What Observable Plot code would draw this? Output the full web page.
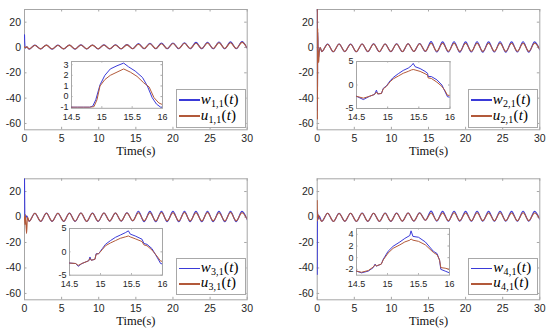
<!DOCTYPE html>
<html><head><meta charset="utf-8">
<script src="https://cdn.jsdelivr.net/npm/d3@7"></script>
<script src="https://cdn.jsdelivr.net/npm/@observablehq/plot@0.6"></script>
<style>
html,body{margin:0;padding:0;background:#fff;}
#root{position:relative;width:550px;height:335px;overflow:hidden;background:#fff;}
#root svg{position:absolute;overflow:visible;}
.leg{position:absolute;background:#fff;border:1px solid #a8a8a8;box-sizing:border-box;}
.leg .ln{position:absolute;left:2px;width:21px;height:1.6px;}
.leg .lt{position:absolute;left:24px;font-family:"Liberation Serif","Times New Roman",serif;font-size:15px;line-height:15px;color:#000;white-space:nowrap;letter-spacing:0.2px;}
.leg .lt sub{font-size:10px;line-height:0;vertical-align:-3px;font-style:normal;}
</style></head>
<body><div id="root"></div>
<script>
// ---------- data ----------
const xTicks = [0, 5, 10, 15, 20, 25, 30];
const yTicks = [-60, -40, -20, 0, 20];
const yDomain = [-65, 30];
const insetXTicks = [14.5, 15, 15.5, 16];
const insetYTicks = [[-1, 0, 1, 2, 3], [-5, 0, 5], [-5, 0, 5], [-2, 0, 2, 4]];
const insetYDomains = [[-1.1, 3.3], [-5, 5], [-5, 5], [-3, 5]];
const seriesW = ["w", "w", "w", "w"];
const seriesU = ["u", "u", "u", "u"];
const subscripts = ["1,1", "2,1", "3,1", "4,1"];

// times of troughs / peaks of the oscillation (shared), last = end of run
const waveT = [0.62, 1.4, 2.18, 2.95, 3.72, 4.5, 5.28, 6.05, 6.82, 7.6, 8.38, 9.15, 9.92, 10.7,
  11.48, 12.25, 13.02, 13.8, 14.58, 15.35, 16.12, 16.9, 17.68, 18.45, 19.22, 20.0, 20.78, 21.55,
  22.32, 23.1, 23.88, 24.65, 25.42, 26.2, 26.98, 27.75, 28.52, 29.3, 30.0];

// panel 1
const w1StartT = [0, 0.03, 0.1, 0.3];
const w1StartV = [10, 4, -0.5, 0.5];
const u1StartT = [0, 0.1, 0.3];
const u1StartV = [0.5, 0, 0.5];
const w1Wave = [-1.3, 1.9, -1.2, 2.0, -1.3, 1.9, -1.2, 2.0, -1.3, 2.1, -1.2, 2.0, -1.2, 2.1, -1.1, 2.2, -1.1, 2.3,
  -1.0, 3.1, -1.0, 3.4, -1.0, 3.5, -1.0, 3.6, -1.0, 3.8, -1.0, 4.0, -1.0, 4.1, -1.0, 4.3, -1.0, 4.4, -1.0, 4.6, -0.6];
const u1Wave = [-1.2, 1.8, -1.1, 1.9, -1.2, 1.8, -1.1, 1.9, -1.2, 2.0, -1.1, 1.9, -1.1, 2.0, -1.0, 2.0, -1.0, 2.1,
  -1.0, 2.6, -0.8, 2.9, -0.8, 3.0, -0.8, 3.1, -0.8, 3.3, -0.8, 3.4, -0.8, 3.6, -0.8, 3.7, -0.8, 3.8, -0.8, 4.0, -0.4];

// panel 2
const w2StartT = [0, 0.03, 0.07, 0.12, 0.2, 0.26, 0.4];
const w2StartV = [30, -50, 12, -3, -8, -4, 0];
const u2StartT = [0, 0.03, 0.07, 0.12, 0.2, 0.26, 0.4];
const u2StartV = [30, -57, 15, -2, -12, -5, 0];
const w2Wave = [-3.3, 2.7, -3.4, 2.8, -3.3, 2.7, -3.4, 2.8, -3.3, 2.9, -3.4, 2.8, -3.3, 2.9, -3.3, 3.0, -3.2, 3.1,
  -3.1, 4.6, -3.6, 4.4, -3.6, 4.5, -3.7, 4.4, -3.6, 4.5, -3.7, 4.4, -3.6, 4.5, -3.7, 4.4, -3.6, 4.5, -3.7, 4.4, -2.0];
const u2Wave = [-3.2, 2.6, -3.3, 2.7, -3.2, 2.6, -3.3, 2.7, -3.2, 2.8, -3.3, 2.7, -3.2, 2.8, -3.2, 2.9, -3.1, 3.0,
  -2.9, 3.3, -3.0, 3.3, -3.0, 3.4, -3.1, 3.3, -3.0, 3.4, -3.1, 3.3, -3.0, 3.4, -3.1, 3.3, -3.0, 3.4, -3.1, 3.3, -1.6];

// panel 3
const w3StartT = [0, 0.04, 0.1, 0.3];
const w3StartV = [30, 2, -2, 1];
const u3StartT = [0, 0.06, 0.12, 0.28, 0.4];
const u3StartV = [0, -6, 2, -13, 0];
const w3Wave = [-3.4, 3.0, -3.5, 3.1, -3.4, 3.0, -3.5, 3.1, -3.4, 3.2, -3.5, 3.1, -3.4, 3.2, -3.3, 3.2, -3.2, 3.3,
  -3.1, 4.5, -3.6, 4.4, -3.7, 4.5, -3.6, 4.4, -3.7, 4.5, -3.6, 4.4, -3.7, 4.5, -3.6, 4.4, -3.7, 4.5, -3.6, 4.4, -2.2];
const u3Wave = [-3.3, 2.9, -3.4, 3.0, -3.3, 2.9, -3.4, 3.0, -3.3, 3.1, -3.4, 3.0, -3.3, 3.1, -3.2, 3.1, -3.1, 3.2,
  -2.9, 3.4, -3.0, 3.4, -3.1, 3.5, -3.0, 3.4, -3.1, 3.5, -3.0, 3.4, -3.1, 3.5, -3.0, 3.4, -3.1, 3.5, -3.0, 3.4, -1.8];

// panel 4
const w4StartT = [0, 0.04, 0.1, 0.25];
const w4StartV = [-45, 5, -2, 1];
const u4StartT = [0, 0.04, 0.1, 0.25];
const u4StartV = [13, -3, 2, 0];
const w4Wave = [-3.4, 3.0, -3.5, 2.9, -3.4, 3.0, -3.5, 3.1, -3.4, 3.0, -3.5, 3.1, -3.4, 3.1, -3.3, 3.2, -3.2, 3.3,
  -2.6, 4.6, -3.2, 4.4, -3.3, 4.5, -3.2, 4.4, -3.3, 4.5, -3.2, 4.4, -3.3, 4.5, -3.2, 4.4, -3.3, 4.5, -3.2, 4.4, -2.0];
const u4Wave = [-3.3, 2.9, -3.4, 2.8, -3.3, 2.9, -3.4, 3.0, -3.3, 2.9, -3.4, 3.0, -3.3, 3.0, -3.2, 3.1, -3.1, 3.2,
  -2.5, 3.2, -2.8, 3.2, -2.9, 3.3, -2.8, 3.2, -2.9, 3.3, -2.8, 3.2, -2.9, 3.3, -2.8, 3.2, -2.9, 3.3, -2.8, 3.2, -1.6];

// insets (zoom 14.5 .. 16 s)
const in1WT = [14.5, 14.6, 14.7, 14.8, 14.85, 14.9, 14.97, 15.05, 15.14, 15.25, 15.36, 15.44, 15.55, 15.67, 15.75, 15.83, 15.9, 15.97, 16];
const in1W = [-1, -1, -1, -1, -0.9, -0.3, 1.1, 2.0, 2.6, 2.9, 3.15, 2.8, 2.4, 1.8, 1.0, -0.1, -0.7, -1.0, -1.0];
const in1UT = [14.5, 14.6, 14.7, 14.8, 14.87, 14.92, 14.97, 15.05, 15.14, 15.25, 15.36, 15.47, 15.58, 15.69, 15.78, 15.86, 15.94, 16];
const in1U = [-1, -1, -1, -1, -0.95, -0.3, 1.0, 1.6, 2.0, 2.3, 2.6, 2.3, 1.9, 1.3, 0.9, -0.1, -0.6, -0.75];

const in2T = [14.5, 14.61, 14.71, 14.79, 14.82, 14.84, 14.9, 14.93, 14.98, 15.04, 15.09, 15.17, 15.25, 15.33, 15.38, 15.41, 15.44, 15.52, 15.6, 15.64, 15.65, 15.7, 15.79, 15.87, 15.92, 15.96, 16];
const in2W = [-2.4, -3.1, -2.4, -2.0, -1.1, -1.9, -1.8, -0.7, -0.2, 0.9, 1.6, 2.4, 3.1, 3.6, 4.1, 4.6, 3.9, 3.5, 2.9, 2.5, 1.8, 1.8, 1.1, 0, -1.4, -2.5, -2.6];
const in2U = [-2.4, -2.8, -2.4, -2.0, -1.5, -1.9, -1.8, -0.8, -0.3, 0.7, 1.3, 1.9, 2.5, 2.9, 3.2, 3.3, 3.2, 2.9, 2.4, 2.1, 1.5, 1.4, 0.6, -0.3, -1.2, -2.2, -2.2];

const in3T = [14.5, 14.6, 14.64, 14.7, 14.81, 14.83, 14.85, 14.91, 14.93, 14.97, 15.03, 15.08, 15.16, 15.24, 15.32, 15.4, 15.45, 15.48, 15.56, 15.67, 15.7, 15.75, 15.83, 15.91, 15.97, 16];
const in3W = [-2.4, -2.5, -3.1, -2.5, -1.9, -1.1, -1.8, -1.6, -0.4, -0.4, 0.7, 1.6, 2.4, 3.1, 3.6, 4.1, 4.5, 3.8, 3.4, 2.7, 1.8, 1.6, 0.7, -1.1, -2.5, -2.6];
const in3U = [-2.4, -2.5, -2.9, -2.5, -1.9, -1.4, -1.8, -1.6, -0.5, -0.4, 0.5, 1.3, 1.9, 2.4, 2.9, 3.2, 3.4, 3.2, 2.8, 2.2, 1.5, 1.3, 0.4, -0.9, -2.0, -2.0];

const in4T = [14.5, 14.58, 14.69, 14.77, 14.8, 14.82, 14.9, 14.93, 15.01, 15.09, 15.2, 15.28, 15.36, 15.38, 15.41, 15.5, 15.61, 15.74, 15.8, 15.84, 15.86, 15.93, 16];
const in4W = [-2.3, -2.6, -2.3, -1.7, -1.1, -1.45, -1.1, -0.3, 1.1, 1.95, 2.7, 3.3, 3.8, 4.6, 3.65, 3.5, 2.7, 1.1, 0.7, -0.45, -2.0, -2.3, -2.6];
const in4U = [-2.3, -2.5, -2.2, -1.6, -1.2, -1.4, -1.1, -0.4, 0.8, 1.6, 2.2, 2.7, 3.0, 3.2, 3.0, 2.8, 2.2, 0.9, 0.5, -0.4, -1.7, -1.8, -2.0];

// ---------- build ----------
const BLUE = "#3a3ad8", RED = "#b2593a", FRAME = "#a6a6a6", TXT = "#262626";
const zip = (T, V) => T.map((t, i) => ({t, v: V[i]}));
const mainW = [
  zip(w1StartT.concat(waveT), w1StartV.concat(w1Wave)),
  zip(w2StartT.concat(waveT), w2StartV.concat(w2Wave)),
  zip(w3StartT.concat(waveT), w3StartV.concat(w3Wave)),
  zip(w4StartT.concat(waveT), w4StartV.concat(w4Wave))];
const mainU = [
  zip(u1StartT.concat(waveT), u1StartV.concat(u1Wave)),
  zip(u2StartT.concat(waveT), u2StartV.concat(u2Wave)),
  zip(u3StartT.concat(waveT), u3StartV.concat(u3Wave)),
  zip(u4StartT.concat(waveT), u4StartV.concat(u4Wave))];
const inW = [zip(in1WT, in1W), zip(in2T, in2W), zip(in3T, in3W), zip(in4T, in4W)];
const inU = [zip(in1UT, in1U), zip(in2T, in2U), zip(in3T, in3U), zip(in4T, in4U)];

const MAIN = [
  {left: 0, top: 0, w: 275, h: 165, mL: 24, mR: 28.3, mT: 9, mB: 35.7, lab: 25.5},
  {left: 275, top: 0, w: 275, h: 165, mL: 41.7, mR: 10.7, mT: 9, mB: 35.7, lab: 25.5},
  {left: 0, top: 165, w: 275, h: 170, mL: 24, mR: 28.3, mT: 13.3, mB: 35.7, lab: 25},
  {left: 275, top: 165, w: 275, h: 170, mL: 41.7, mR: 10.7, mT: 13.3, mB: 35.7, lab: 25}];
const INSET = [
  {x0: 71, x1: 162, y0: 60.7, y1: 107.5},
  {x0: 355.5, x1: 449, y0: 60.5, y1: 107.5},
  {x0: 69, x1: 162, y0: 228.3, y1: 275},
  {x0: 356, x1: 449, y0: 228.3, y1: 275}];
const LEG = [
  {left: 175.7, top: 89.3, w: 70, h: 39},
  {left: 467.7, top: 89.3, w: 70.6, h: 39},
  {left: 175.7, top: 258.3, w: 70.3, h: 37},
  {left: 468.3, top: 258.3, w: 70, h: 37}];

const root = document.getElementById("root");
const fmt = d => String(d);

function ticksIn(xt, yt, pw, ph, len) {
  return [
    Plot.tickX(xt, {x: d => d, stroke: FRAME, insetTop: ph - len}),
    Plot.tickX(xt, {x: d => d, stroke: FRAME, insetBottom: ph - len}),
    Plot.tickY(yt, {y: d => d, stroke: FRAME, insetRight: pw - len}),
    Plot.tickY(yt, {y: d => d, stroke: FRAME, insetLeft: pw - len})
  ];
}

for (let i = 0; i < 4; i++) {
  const m = MAIN[i];
  const pw = m.w - m.mL - m.mR, ph = m.h - m.mT - m.mB;
  const svg = Plot.plot({
    width: m.w, height: m.h,
    marginLeft: m.mL, marginRight: m.mR, marginTop: m.mT, marginBottom: m.mB,
    style: {background: "transparent", fontFamily: "'Liberation Sans', Arial, sans-serif", fontSize: "10.5px", color: TXT},
    x: {domain: [0, 30]},
    y: {domain: yDomain},
    marks: [
      Plot.frame({stroke: FRAME, fill: "white"}),
      ...ticksIn(xTicks, yTicks, pw, ph, 2.5),
      Plot.axisX({ticks: xTicks, tickSize: 0, tickPadding: 5, tickFormat: fmt, label: null}),
      Plot.axisY({ticks: yTicks, tickSize: 0, tickPadding: 3.5, tickFormat: fmt, label: null}),
      Plot.line(mainW[i], {x: "t", y: "v", stroke: BLUE, strokeWidth: 1.1, curve: "monotone-x", clip: true}),
      Plot.line(mainU[i], {x: "t", y: "v", stroke: RED, strokeWidth: 1.1, curve: "monotone-x", clip: true}),
      Plot.text(["Time(s)"], {text: d => d, frameAnchor: "bottom", dy: m.lab, fontFamily: "'Liberation Serif', 'Times New Roman', serif", fontSize: 12.5, fill: "#111"})
    ]
  });
  svg.style.left = m.left + "px";
  svg.style.top = m.top + "px";
  root.appendChild(svg);
}

for (let i = 0; i < 4; i++) {
  const r = INSET[i];
  const mL = 22, mR = 8, mT = 5, mB = 16;
  const pw = r.x1 - r.x0, ph = r.y1 - r.y0;
  const svg = Plot.plot({
    width: pw + mL + mR, height: ph + mT + mB,
    marginLeft: mL, marginRight: mR, marginTop: mT, marginBottom: mB,
    style: {background: "transparent", fontFamily: "'Liberation Sans', Arial, sans-serif", fontSize: "9px", color: TXT},
    x: {domain: [14.5, 16]},
    y: {domain: insetYDomains[i]},
    marks: [
      Plot.frame({stroke: FRAME, fill: "white"}),
      ...ticksIn(insetXTicks, insetYTicks[i], pw, ph, 1.5),
      Plot.axisX({ticks: insetXTicks, tickSize: 0, tickPadding: 5.2, tickFormat: fmt, label: null}),
      Plot.axisY({ticks: insetYTicks[i], tickSize: 0, tickPadding: 3, tickFormat: fmt, label: null}),
      Plot.line(inW[i], {x: "t", y: "v", stroke: BLUE, strokeWidth: 1, clip: true}),
      Plot.line(inU[i], {x: "t", y: "v", stroke: RED, strokeWidth: 1, clip: true})
    ]
  });
  svg.style.left = (r.x0 - mL) + "px";
  svg.style.top = (r.y0 - mT) + "px";
  root.appendChild(svg);
}

for (let i = 0; i < 4; i++) {
  const L = LEG[i];
  const d = document.createElement("div");
  d.className = "leg";
  Object.assign(d.style, {left: L.left + "px", top: L.top + "px", width: L.w + "px", height: L.h + "px"});
  const rows = [[seriesW[i], BLUE], [seriesU[i], RED]];
  const rowY = [L.h * 0.25, L.h * 0.66];
  rows.forEach(([name, col], k) => {
    const ln = document.createElement("div");
    ln.className = "ln";
    ln.style.top = (rowY[k] - 0.8) + "px";
    ln.style.background = col;
    d.appendChild(ln);
    const tx = document.createElement("span");
    tx.className = "lt";
    tx.style.top = (rowY[k] - 8.5) + "px";
    tx.innerHTML = `<i>${name}</i><sub>${subscripts[i]}</sub>(<i>t</i>)`;
    d.appendChild(tx);
  });
  root.appendChild(d);
}
</script></body></html>
